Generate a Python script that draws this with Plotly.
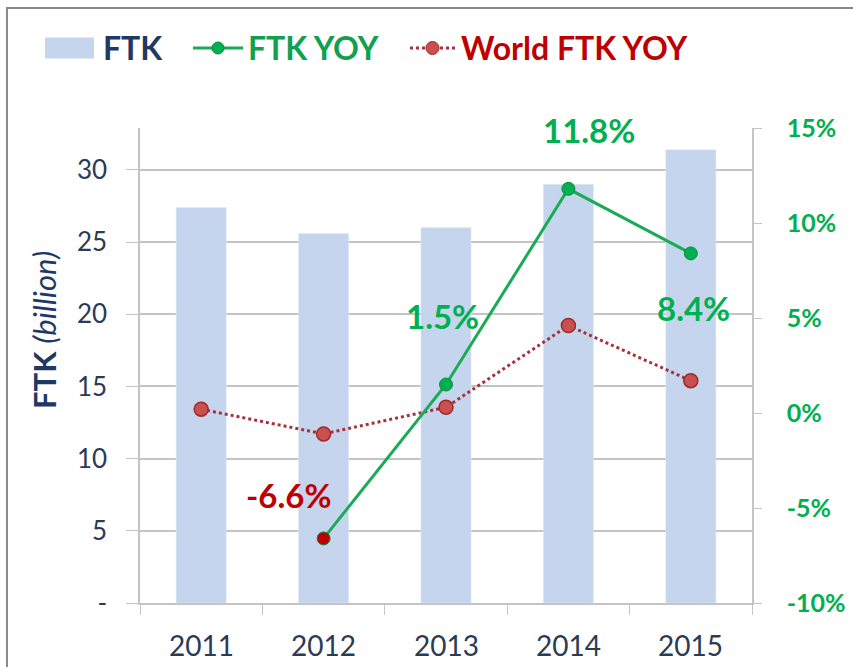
import plotly.graph_objects as go

years = ["2011", "2012", "2013", "2014", "2015"]
ftk = [27.4, 25.6, 26.0, 29.0, 31.4]
ftk_yoy = [None, -6.6, 1.5, 11.8, 8.4]
world_yoy = [0.2, -1.1, 0.3, 4.6, 1.7]
left_ticks = [0, 5, 10, 15, 20, 25, 30]
left_ticktext = ["-", "5", "10", "15", "20", "25", "30"]
right_ticks = [-10, -5, 0, 5, 10, 15]
right_ticktext = ["-10%", "-5%", "0%", "5%", "10%", "15%"]

W, H = 853, 667
L, R, T, B = 140, 101, 128, 64
PW, PH = W - L - R, H - T - B

def px(x):
    return (x - L) / PW

def py(y):
    return (H - B - y) / PH

FONT = "Lato, Open Sans, sans-serif"
GREEN = "#00B050"
RED = "#C00000"
NAVY = "#1F3864"
TICKC = "#2B3A55"
BARC = "#C5D5EE"
GRID = "#C4C4C4"

fig = go.Figure()
fig.add_trace(go.Bar(x=years, y=ftk, marker_color=BARC, name="FTK", yaxis="y"))
fig.add_trace(go.Scatter(
    x=years, y=world_yoy, yaxis="y2", mode="lines+markers", name="World FTK YOY",
    line=dict(color="#A8323C", width=3, dash="dot"),
    marker=dict(size=14, color="#C9504F", line=dict(color="#9E2A2A", width=1.5)),
))
fig.add_trace(go.Scatter(
    x=years[1:], y=ftk_yoy[1:], yaxis="y2", mode="lines+markers", name="FTK YOY",
    line=dict(color="#1BAA55", width=3),
    marker=dict(size=13, color=[RED, GREEN, GREEN, GREEN],
                line=dict(color="#0E8A40", width=1)),
))

# data labels
labels = [
    ("2012", -6.6, "-6.6%", RED, -35, 43),
    ("2013", 1.5, "1.5%", GREEN, -4, 69),
    ("2014", 11.8, "11.8%", GREEN, 21, 59),
    ("2015", 8.4, "8.4%", GREEN, 3, -55),
]
for xv, yv, txt, col, xs, ys in labels:
    fig.add_annotation(x=years.index(xv), y=yv, xref="x", yref="y2", text="<b>%s</b>" % txt,
                       showarrow=False, xshift=xs, yshift=ys,
                       font=dict(family=FONT, size=33, color=col))

# x category labels
for i, yr in enumerate(years):
    fig.add_annotation(x=i, y=0, xref="x", yref="paper", text=yr, showarrow=False,
                       yanchor="top", yshift=-23,
                       font=dict(family=FONT, size=28, color=TICKC))

# left axis title
fig.add_annotation(x=px(44), y=py(330), xref="paper", yref="paper",
                   xanchor="center", yanchor="middle",
                   text="<b>FTK</b> <i>(billion)</i>", textangle=-90, showarrow=False,
                   font=dict(family=FONT, size=31, color=NAVY))

shapes = []
shapes.append(dict(type="rect", xref="paper", yref="paper",
                   x0=px(7), x1=px(900), y0=py(8), y1=py(720),
                   line=dict(color="#8A8A8A", width=2), fillcolor="rgba(0,0,0,0)", layer="below"))
ly = 48
shapes.append(dict(type="rect", xref="paper", yref="paper", x0=px(45), x1=px(94),
                   y0=py(ly - 10.5), y1=py(ly + 10.5), line=dict(width=0), fillcolor=BARC))
shapes.append(dict(type="line", xref="paper", yref="paper", x0=px(193), x1=px(243),
                   y0=py(ly), y1=py(ly), line=dict(color="#1BAA55", width=3)))
shapes.append(dict(type="circle", xref="paper", yref="paper", x0=px(212), x1=px(224),
                   y0=py(ly + 6), y1=py(ly - 6), line=dict(color="#0E8A40", width=1), fillcolor=GREEN))
shapes.append(dict(type="line", xref="paper", yref="paper", x0=px(410), x1=px(456),
                   y0=py(ly), y1=py(ly), line=dict(color="#A8323C", width=3, dash="dot")))
shapes.append(dict(type="circle", xref="paper", yref="paper", x0=px(426), x1=px(439),
                   y0=py(ly + 6.5), y1=py(ly - 6.5), line=dict(color="#9E2A2A", width=1), fillcolor="#C9504F"))
for x0, txt, col in [(101, "FTK", NAVY), (246, "FTK YOY", "#10A050"), (459, "World FTK YOY", RED)]:
    fig.add_annotation(x=px(x0), y=py(ly), xref="paper", yref="paper", text="<b>%s</b>" % txt,
                       showarrow=False, xanchor="left", yanchor="middle",
                       font=dict(family=FONT, size=32, color=col))

fig.update_layout(
    width=W, height=H,
    margin=dict(l=L, r=R, t=T, b=B, autoexpand=False),
    paper_bgcolor="white", plot_bgcolor="white",
    showlegend=False,
    bargap=0.59,
    shapes=shapes,
    font=dict(family=FONT),
    xaxis=dict(type="category", categoryorder="array", categoryarray=years,
               range=[-0.5, 4.5], showline=True, linecolor=GRID, linewidth=1.5,
               ticks="outside", tickson="boundaries", ticklen=10, tickcolor=GRID,
               showticklabels=False, showgrid=False),
    yaxis=dict(range=[0, 32.9], tickvals=left_ticks, ticktext=left_ticktext,
               showline=True, linecolor=GRID, linewidth=1.5, ticks="outside", ticklen=12,
               tickcolor=GRID, showgrid=True, gridcolor=GRID, gridwidth=1.5,
               tickfont=dict(family=FONT, size=26, color=TICKC), ticklabelstandoff=14,
               zeroline=False),
    yaxis2=dict(range=[-10, 15], tickvals=right_ticks, ticktext=right_ticktext,
                overlaying="y", side="right",
                showline=True, linecolor=GRID, linewidth=1.5, ticks="outside", ticklen=8,
                tickcolor=GRID, showgrid=False, zeroline=False,
                tickfont=dict(family=FONT, size=25, color=GREEN, weight="bold"),
                ticklabelstandoff=20),
)

fig.write_html("out.html", config={"displayModeBar": False},
               post_script="document.body.style.margin='0px';")
